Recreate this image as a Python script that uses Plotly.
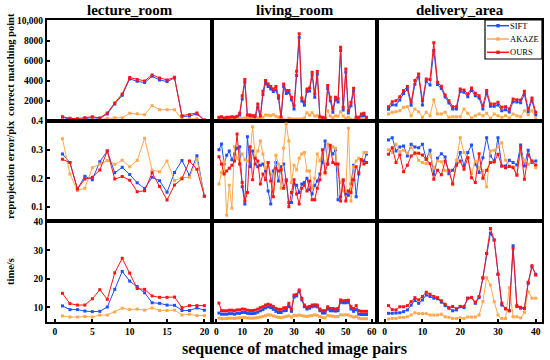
import plotly.graph_objects as go
from plotly.subplots import make_subplots

FONT = "Liberation Serif"
scenes = ["lecture_room", "living_room", "delivery_area"]
methods = ["SIFT", "AKAZE", "OURS"]
colors = {"SIFT": "#1f4fff", "AKAZE": "#ffa94d", "OURS": "#ff1414"}

# ---------------- lecture_room (20 pairs) ----------------
lec_cmp_sift = [330, 170, 130, 230, 300, 230, 670, 1670, 2530, 4170, 3930, 3800, 4430, 4070, 3900, 4270, 400, 470, 670, 30]
lec_cmp_akaze = [100, 30, 30, 70, 100, 100, 230, 300, 300, 730, 700, 600, 1500, 1100, 1100, 1100, 130, 170, 200, 0]
lec_cmp_ours = [400, 230, 200, 300, 400, 270, 770, 1770, 2670, 4300, 4100, 3970, 4570, 4270, 4070, 4330, 500, 600, 770, 70]

lec_err_sift = [0.285, 0.255, 0.162, 0.207, 0.195, 0.258, 0.295, 0.219, 0.238, 0.213, 0.184, 0.164, 0.203, 0.191, 0.151, 0.220, 0.262, 0.210, 0.279, 0.137]
lec_err_akaze = [0.338, 0.215, 0.157, 0.165, 0.237, 0.250, 0.262, 0.249, 0.263, 0.240, 0.262, 0.340, 0.228, 0.223, 0.260, 0.192, 0.202, 0.203, 0.266, 0.137]
lec_err_ours = [0.266, 0.255, 0.162, 0.197, 0.203, 0.229, 0.295, 0.197, 0.206, 0.193, 0.153, 0.156, 0.219, 0.171, 0.124, 0.176, 0.198, 0.260, 0.231, 0.137]

lec_time_sift = [10.5, 9.2, 9.2, 8.7, 8.5, 8.6, 10.1, 16.3, 22.6, 19.2, 17.3, 15.1, 11.6, 11.4, 10.8, 10.7, 8.9, 8.9, 9.8, 9.0]
lec_time_akaze = [7.0, 6.6, 6.6, 6.8, 6.6, 7.3, 7.3, 8.4, 9.7, 9.2, 9.4, 9.0, 9.8, 8.9, 8.9, 9.0, 7.3, 7.6, 7.1, 7.1]
lec_time_ours = [14.9, 11.3, 10.8, 10.8, 13.0, 16.2, 12.8, 22.1, 27.2, 22.0, 16.6, 16.3, 14.0, 13.5, 13.5, 13.6, 9.9, 10.6, 10.6, 10.6]

# ---------------- living_room (58 pairs) ----------------
liv_cmp_sift = [170, 230, 130, 170, 200, 230, 200, 300, 570, 2170,
                3830, 330, 330, 300, 270, 1330, 270, 2600, 3700, 3400,
                3170, 2900, 3070, 2230, 170, 3400, 2700, 2800, 2100, 1170,
                4500, 8300, 1970, 1530, 2900, 2970, 4570, 2330, 4630, 270,
                200, 130, 3200, 2000, 830, 2100, 1870, 7000, 1070, 4830,
                770, 1500, 2970, 200, 200, 470, 500, 170]
liv_cmp_akaze = [70, 100, 50, 70, 100, 130, 100, 130, 200, 230,
                 270, 330, 200, 170, 100, 230, 170, 330, 570, 530,
                 500, 600, 430, 330, 170, 100, 70, 230, 170, 130,
                 170, 130, 170, 270, 800, 530, 800, 470, 500, 170,
                 100, 70, 1000, 470, 300, 500, 430, 900, 470, 230,
                 330, 130, 70, 100, 70, 170, 130, 70]
liv_cmp_ours = [330, 400, 270, 330, 330, 400, 330, 430, 730, 2500,
                4100, 570, 570, 500, 500, 1670, 500, 2930, 4000, 3670,
                3400, 3170, 3400, 2500, 400, 3670, 3000, 3000, 2330, 1500,
                4930, 8670, 2270, 1830, 3170, 3270, 4830, 2670, 4900, 400,
                330, 270, 3500, 2330, 1170, 2330, 2170, 7330, 1330, 5170,
                1000, 1830, 3230, 330, 330, 670, 730, 330]

liv_err_sift = [0.30, 0.32, 0.25, 0.28, 0.295, 0.265, 0.285, 0.305, 0.31, 0.17,
                0.11, 0.345, 0.24, 0.295, 0.25, 0.24, 0.245, 0.25, 0.225, 0.155,
                0.11, 0.225, 0.255, 0.19, 0.24, 0.25, 0.19, 0.115, 0.115, 0.18,
                0.175, 0.15, 0.18, 0.185, 0.20, 0.16, 0.145, 0.175, 0.19, 0.215,
                0.255, 0.33, 0.25, 0.305, 0.285, 0.30, 0.125, 0.135, 0.19, 0.145,
                0.14, 0.18, 0.245, 0.135, 0.215, 0.265, 0.26, 0.285]
liv_err_akaze = [0.18, 0.22, 0.26, 0.07, 0.175, 0.095, 0.31, 0.27, 0.26, 0.285,
                 0.265, 0.26, 0.275, 0.38, 0.275, 0.295, 0.33, 0.285, 0.235, 0.255,
                 0.215, 0.16, 0.28, 0.25, 0.165, 0.305, 0.39, 0.33, 0.185, 0.245,
                 0.23, 0.27, 0.285, 0.29, 0.225, 0.225, 0.165, 0.20, 0.285, 0.26,
                 0.295, 0.215, 0.32, 0.295, 0.31, 0.305, 0.215, 0.185, 0.155, 0.155,
                 0.375, 0.12, 0.24, 0.26, 0.27, 0.265, 0.29, 0.29]
liv_err_ours = [0.275, 0.25, 0.215, 0.225, 0.235, 0.245, 0.26, 0.355, 0.25, 0.185,
                0.12, 0.15, 0.31, 0.195, 0.27, 0.26, 0.18, 0.215, 0.195, 0.255,
                0.19, 0.135, 0.235, 0.225, 0.23, 0.165, 0.195, 0.10, 0.15, 0.195,
                0.145, 0.11, 0.165, 0.175, 0.155, 0.19, 0.125, 0.125, 0.165, 0.195,
                0.30, 0.22, 0.25, 0.315, 0.255, 0.25, 0.25, 0.12, 0.195, 0.12,
                0.155, 0.15, 0.195, 0.24, 0.22, 0.265, 0.25, 0.255]

liv_time_sift = [8.0, 7.6, 7.6, 7.6, 7.8, 7.8, 7.6, 7.9, 7.9, 8.2,
                 8.2, 7.9, 7.8, 7.8, 7.9, 8.3, 8.8, 9.2, 9.8, 10.2,
                 9.9, 9.3, 8.6, 8.2, 8.2, 8.8, 8.9, 10.3, 8.6, 13.6,
                 14.0, 15.6, 12.6, 10.2, 9.4, 9.7, 10.2, 10.4, 10.2, 8.8,
                 8.0, 8.0, 9.4, 8.8, 8.8, 8.7, 8.8, 11.8, 11.6, 11.6,
                 11.8, 9.4, 8.6, 9.2, 7.6, 7.5, 7.5, 7.5]
liv_time_akaze = [6.2, 6.0, 6.0, 6.1, 6.2, 6.2, 6.1, 6.3, 6.3, 6.4,
                  6.4, 6.3, 6.2, 6.2, 6.3, 6.4, 6.6, 6.8, 7.1, 7.4,
                  7.3, 7.0, 6.7, 6.5, 6.4, 6.6, 6.8, 7.0, 6.6, 7.2,
                  7.1, 7.3, 7.1, 6.9, 6.8, 7.0, 7.1, 7.4, 7.2, 6.8,
                  6.4, 6.3, 7.2, 7.0, 6.9, 6.7, 6.8, 7.4, 7.3, 7.4,
                  7.3, 6.9, 6.6, 6.8, 6.2, 6.0, 6.0, 6.0]
liv_time_ours = [11.5, 8.8, 8.8, 8.8, 9.0, 9.0, 8.8, 9.1, 9.1, 9.4,
                 9.3, 9.0, 8.9, 8.9, 9.0, 9.4, 9.9, 10.2, 10.8, 11.1,
                 10.8, 10.3, 9.6, 9.3, 9.3, 9.8, 9.9, 11.4, 9.4, 14.3,
                 14.5, 16.1, 13.2, 10.8, 10.1, 10.3, 10.8, 10.9, 10.8, 9.4,
                 8.8, 8.8, 10.2, 9.6, 9.6, 9.4, 9.6, 12.6, 12.3, 12.4,
                 12.5, 10.2, 9.6, 10.6, 8.8, 8.6, 8.6, 8.6]

# ---------------- delivery_area (40 pairs) ----------------
del_cmp_sift = [1130, 1600, 1570, 2070, 2700, 3130, 1530, 3630, 4370, 1570,
                3900, 3570, 7000, 3600, 3200, 2370, 1770, 1170, 1170, 2900,
                2830, 2400, 3000, 2500, 2270, 1170, 2730, 1430, 1430, 1570,
                1000, 1100, 870, 1900, 1870, 1800, 2630, 900, 2030, 570]
del_cmp_akaze = [670, 830, 900, 1000, 1330, 1400, 500, 1170, 900, 330,
                 830, 500, 2100, 670, 670, 830, 330, 400, 400, 400,
                 1170, 730, 270, 500, 670, 500, 730, 230, 670, 500,
                 330, 500, 270, 670, 500, 400, 1000, 600, 1000, 170]
del_cmp_ours = [1400, 1900, 2000, 2400, 3000, 3400, 1830, 4000, 4670, 2000,
                4170, 4100, 7770, 3830, 3430, 2570, 2000, 1400, 1400, 3170,
                3070, 2670, 3270, 2730, 2500, 1500, 3000, 1670, 1670, 1830,
                1330, 1400, 1170, 2170, 2100, 2070, 2930, 1170, 2270, 830]

del_err_sift = [0.334, 0.342, 0.295, 0.309, 0.313, 0.278, 0.319, 0.309, 0.307, 0.319,
                0.266, 0.298, 0.214, 0.270, 0.286, 0.274, 0.216, 0.228, 0.251, 0.290,
                0.243, 0.290, 0.316, 0.249, 0.220, 0.272, 0.342, 0.278, 0.260, 0.342,
                0.243, 0.243, 0.263, 0.255, 0.246, 0.316, 0.243, 0.298, 0.255, 0.260]
del_err_akaze = [0.300, 0.290, 0.319, 0.293, 0.298, 0.288, 0.307, 0.290, 0.263, 0.255,
                 0.251, 0.284, 0.237, 0.260, 0.258, 0.226, 0.228, 0.177, 0.263, 0.342,
                 0.290, 0.272, 0.216, 0.260, 0.237, 0.226, 0.170, 0.295, 0.298, 0.309,
                 0.324, 0.263, 0.243, 0.240, 0.214, 0.290, 0.263, 0.249, 0.260, 0.237]
del_err_ours = [0.284, 0.307, 0.255, 0.281, 0.223, 0.245, 0.278, 0.287, 0.287, 0.281,
                0.266, 0.251, 0.196, 0.228, 0.212, 0.260, 0.226, 0.181, 0.245, 0.260,
                0.231, 0.272, 0.202, 0.185, 0.286, 0.200, 0.228, 0.255, 0.257, 0.284,
                0.243, 0.237, 0.241, 0.237, 0.210, 0.309, 0.196, 0.281, 0.260, 0.246]

del_time_sift = [7.9, 7.9, 8.0, 8.1, 8.5, 9.1, 10.8, 12.4, 11.4, 12.6,
                 14.3, 13.8, 13.2, 13.0, 11.8, 10.6, 9.7, 8.8, 9.1, 10.2,
                 9.9, 13.2, 13.4, 11.4, 13.4, 20.2, 28.9, 35.9, 33.6, 21.6,
                 10.8, 9.5, 8.8, 31.6, 10.3, 9.7, 9.5, 18.4, 24.2, 21.6]
del_time_akaze = [5.9, 6.1, 6.1, 6.5, 6.5, 6.7, 7.3, 8.1, 7.8, 7.8,
                  7.8, 7.3, 7.3, 7.3, 7.6, 6.7, 6.5, 6.1, 6.1, 6.3,
                  6.1, 6.6, 6.6, 6.6, 7.3, 12.0, 20.4, 17.8, 12.0, 7.3,
                  6.1, 6.1, 16.9, 6.7, 6.7, 6.3, 8.2, 15.5, 13.2, 13.2]
del_time_ours = [10.6, 9.2, 9.1, 10.2, 10.2, 10.6, 12.0, 13.4, 12.6, 13.8,
                 15.3, 14.6, 13.8, 13.4, 12.3, 11.1, 9.9, 10.3, 9.5, 10.3,
                 10.3, 13.2, 13.5, 11.8, 13.8, 20.4, 28.9, 37.6, 33.6, 21.6,
                 11.5, 9.5, 8.8, 30.7, 10.6, 10.0, 9.7, 18.8, 24.6, 21.3]

data = {
    ("lecture_room", 1): [lec_cmp_sift, lec_cmp_akaze, lec_cmp_ours],
    ("lecture_room", 2): [lec_err_sift, lec_err_akaze, lec_err_ours],
    ("lecture_room", 3): [lec_time_sift, lec_time_akaze, lec_time_ours],
    ("living_room", 1): [liv_cmp_sift, liv_cmp_akaze, liv_cmp_ours],
    ("living_room", 2): [liv_err_sift, liv_err_akaze, liv_err_ours],
    ("living_room", 3): [liv_time_sift, liv_time_akaze, liv_time_ours],
    ("delivery_area", 1): [del_cmp_sift, del_cmp_akaze, del_cmp_ours],
    ("delivery_area", 2): [del_err_sift, del_err_akaze, del_err_ours],
    ("delivery_area", 3): [del_time_sift, del_time_akaze, del_time_ours],
}

row_titles = ["correct matching point", "reprojection error/pix", "time/s"]
y_ranges = [[0, 10050], [0.049, 0.4015], [4.86, 40.15]]
y_ticks = [([2000, 4000, 6000, 8000, 10000], ["2000", "4000", "6000", "8000", "10,000"]),
           ([0.1, 0.2, 0.3, 0.4], ["0.1", "0.2", "0.3", "0.4"]),
           ([10, 20, 30, 40], ["10", "20", "30", "40"])]
x_ranges = [[-1.07, 21.02], [-1.68, 62.05], [-2.04, 41.66]]
x_ticks = [[0, 5, 10, 15, 20], [0, 10, 20, 30, 40, 50, 60], [0, 10, 20, 30, 40]]

fig = make_subplots(rows=3, cols=3, horizontal_spacing=0, vertical_spacing=0)

for c, scene in enumerate(scenes, start=1):
    for r in range(1, 4):
        series = data[(scene, r)]
        for m, vals in zip(methods, series):
            xs = list(range(1, len(vals) + 1))
            fig.add_trace(go.Scatter(
                x=xs, y=vals, mode="lines+markers", name=m,
                line=dict(color=colors[m], width=1),
                marker=dict(symbol="square", size=3, color=colors[m]),
                showlegend=False, hoverinfo="skip",
            ), row=r, col=c)

tickfont = dict(family=FONT, size=9.5, color="black", weight="bold")
for c in range(1, 4):
    for r in range(1, 4):
        fig.update_xaxes(
            range=x_ranges[c - 1], showline=True, linewidth=2, linecolor="black", mirror=True,
            showgrid=False, zeroline=False,
            tickvals=x_ticks[c - 1],
            showticklabels=(r == 3), ticks="inside" if r == 3 else "",
            ticklen=3, tickwidth=1.5, tickcolor="black", tickfont=tickfont,
            row=r, col=c)
        fig.update_yaxes(
            range=y_ranges[r - 1], showline=True, linewidth=2, linecolor="black", mirror=True,
            showgrid=False, zeroline=False,
            tickvals=y_ticks[r - 1][0], ticktext=y_ticks[r - 1][1],
            showticklabels=(c == 1), ticks="inside" if c == 1 else "",
            ticklen=3, tickwidth=1.5, tickcolor="black", tickfont=tickfont,
            row=r, col=c)

W, H = 550, 360
PL, PR, PT, PB = 47, 542, 20, 322          # plot area in pixels
ML, MR, MT, MB = PL, W - PR, PT, H - PB
PW, PH = PR - PL, PB - PT


def px(x):
    return (x - PL) / PW


def py(y):
    return 1 - (y - PT) / PH


annotations = []
for i, scene in enumerate(scenes):
    annotations.append(dict(
        text=scene, xref="paper", yref="paper", x=(i + 0.5) / 3, y=py(10),
        xanchor="center", yanchor="middle", showarrow=False,
        font=dict(family=FONT, size=15, color="black", weight="bold")))
row_centers = [py(65), py(170), py(272)]
for i, t in enumerate(row_titles):
    annotations.append(dict(
        text=t, xref="paper", yref="paper", x=px(10), y=row_centers[i],
        xanchor="center", yanchor="middle", textangle=-90, showarrow=False,
        font=dict(family=FONT, size=10.5, color="black", weight="bold")))
annotations.append(dict(
    text="sequence of matched image pairs", xref="paper", yref="paper",
    x=0.5, y=py(349), xanchor="center", yanchor="middle", showarrow=False,
    font=dict(family=FONT, size=16, color="black", weight="bold")))

# legend (drawn as styled box, sample lines, markers and labels)
shapes = [dict(type="rect", xref="paper", yref="paper", x0=px(485), x1=px(542), y0=py(59), y1=py(20),
               line=dict(color="black", width=1.2), fillcolor="white", layer="above")]
leg_y = [25.7, 39, 52.3]
for m, ly in zip(methods, leg_y):
    shapes.append(dict(type="line", xref="paper", yref="paper", x0=px(487), x1=px(509),
                       y0=py(ly), y1=py(ly), line=dict(color=colors[m], width=1.5), layer="above"))
    shapes.append(dict(type="rect", xref="paper", yref="paper", x0=px(496.3), x1=px(499.7),
                       y0=py(ly + 1.7), y1=py(ly - 1.7), line=dict(width=0),
                       fillcolor=colors[m], layer="above"))
    annotations.append(dict(
        text=m, xref="paper", yref="paper", x=px(509), y=py(ly), xanchor="left", yanchor="middle",
        showarrow=False, borderpad=0, font=dict(family=FONT, size=8.5, color="black")))

fig.update_layout(
    width=W, height=H,
    margin=dict(l=ML, r=MR, t=MT, b=MB, autoexpand=False),
    paper_bgcolor="white", plot_bgcolor="white",
    annotations=annotations,
    shapes=shapes,
    showlegend=False,
    hovermode=False,
)

fig.write_html("out.html", config={"displayModeBar": False},
               post_script="document.body.style.margin='0px';")
